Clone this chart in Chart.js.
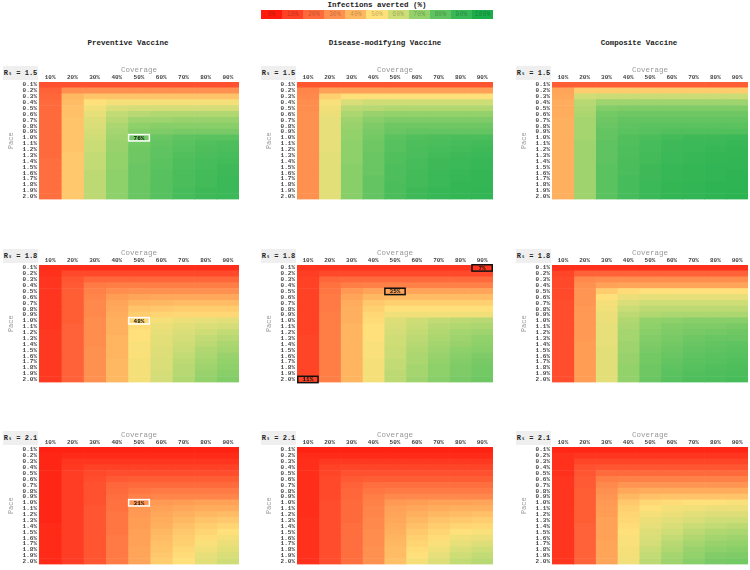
<!DOCTYPE html>
<html><head><meta charset="utf-8">
<script src="https://cdn.jsdelivr.net/npm/chart.js@4/dist/chart.umd.min.js"></script>
<style>
body{margin:0;width:750px;height:570px;background:#fff;position:relative;overflow:hidden;font-family:'Liberation Mono',monospace;}
.ptitle{position:absolute;top:38px;font:bold 7.5px 'Liberation Mono',monospace;color:#222;transform:translateX(-50%);white-space:nowrap;line-height:10px;}
.rbox{position:absolute;background:#efefef;font:bold 7px 'Liberation Mono','DejaVu Sans Mono',monospace;color:#222;display:flex;align-items:center;justify-content:center;white-space:nowrap;}
canvas{position:absolute;}
#legTitle{position:absolute;left:261px;top:0px;width:232px;text-align:center;font:bold 7.5px 'Liberation Mono',monospace;color:#222;line-height:10px;}
#legBar{position:absolute;left:261px;top:10px;width:232px;height:9px;display:flex;}
#legBar div{flex:1;font:6.5px 'Liberation Mono',monospace;color:rgba(0,0,0,0.28);text-align:center;line-height:9px;}
</style></head><body>
<div id="legTitle">Infections averted (%)</div>
<div id="legBar"></div>
<script>
// ---------- data ----------
const coverage = [10,20,30,40,50,60,70,80,90];
const paceLabels = ['0.1%','0.2%','0.3%','0.4%','0.5%','0.6%','0.7%','0.8%','0.9%','1.0%','1.1%','1.2%','1.3%','1.4%','1.5%','1.6%','1.7%','1.8%','1.9%','2.0%'];
const legendTicks = [0,10,20,30,40,50,60,70,80,90,100];
const legendColors = ['#ff1a0d','#ff4126','#ff6a3c','#ff9150','#ffb862','#ffe07a','#cfdd77','#93d16b','#5ec360','#37b756','#1cad4b'];
const vaccineTypes = ['Preventive Vaccine','Disease-modifying Vaccine','Composite Vaccine'];
const rValues = ['1.5','1.8','2.1'];

const prevR15 = [
[14,14,14,14,14,14,14,14,14],
[18,30,30,30,30,30,30,30,30],
[19,40,43,43,43,43,43,43,43],
[20,41,50,52,52,52,52,52,52],
[20,42,53,58,59,59,59,59,59],
[20,42,55,62,64,65,65,65,65],
[20,43,57,64,68,68,69,69,69],
[20,43,58,66,71,72,72,72,72],
[20,43,59,67,73,74,75,75,75],
[20,43,60,68,76,78,80,81,81],
[20,43,61,69,76,79,81,83,84],
[20,43,61,69,77,80,82,84,85],
[20,44,62,70,77,80,83,85,86],
[21,44,62,70,77,81,84,86,87],
[21,44,62,70,78,81,84,86,88],
[21,44,63,71,78,82,85,87,88],
[21,44,63,71,78,82,85,87,89],
[21,44,63,71,78,82,85,87,89],
[21,44,63,71,78,82,86,88,89],
[21,44,63,71,78,82,86,88,89]];
const dmR15 = [
[15,15,15,15,15,15,15,15,15],
[27,34,34,34,34,34,34,34,34],
[28,46,50,50,50,50,50,50,50],
[29,51,58,60,60,60,60,60,60],
[29,53,63,64,65,65,65,65,65],
[30,54,66,69,70,70,70,70,70],
[30,55,68,72,74,74,74,74,74],
[30,55,69,74,77,77,77,77,77],
[30,55,70,75,78,79,79,79,79],
[30,55,70,76,81,83,84,85,85],
[30,55,71,77,82,84,85,86,87],
[30,55,71,77,82,85,86,87,88],
[30,56,71,78,83,85,87,88,89],
[30,56,71,78,83,86,88,89,90],
[30,56,72,78,84,86,88,89,90],
[30,56,72,78,84,87,89,90,91],
[30,56,72,79,84,87,89,90,91],
[30,56,72,79,85,87,89,91,91],
[30,56,72,79,85,88,90,91,92],
[30,56,72,79,85,88,90,91,92]];
const compR15 = [
[17,17,17,17,17,17,17,17,17],
[35,45,45,45,45,45,45,45,45],
[36,60,61,61,61,61,61,61,61],
[37,64,68,68,68,68,68,68,68],
[37,65,73,74,74,74,74,74,74],
[37,66,76,77,77,77,77,77,77],
[38,67,77,79,79,79,79,79,79],
[38,67,78,80,81,81,81,81,81],
[38,67,79,81,82,83,83,83,83],
[38,67,79,83,85,87,88,88,89],
[38,68,80,83,86,88,89,89,90],
[38,68,80,84,86,88,89,90,91],
[38,68,80,84,87,89,90,91,91],
[38,68,80,85,87,89,90,91,92],
[38,68,81,85,88,90,91,92,92],
[38,68,81,85,88,90,91,92,93],
[38,68,81,86,88,90,91,92,93],
[38,68,81,86,89,91,92,93,93],
[38,68,81,86,89,91,92,93,94],
[38,68,81,86,89,91,92,93,94]];
const prevR18 = [
[5,5,5,5,5,5,5,5,5],
[6,12,12,12,12,12,12,12,12],
[7,15,19,19,19,19,19,19,19],
[7,16,24,25,25,25,25,25,25],
[7,17,26,29,30,30,30,30,30],
[7,17,27,33,35,36,36,36,36],
[7,17,28,35,39,40,41,41,41],
[7,17,28,36,43,44,45,45,45],
[7,17,28,37,45,47,48,48,48],
[7,17,29,38,48,52,54,55,56],
[7,18,29,38,49,54,56,58,59],
[8,18,29,38,50,55,58,60,62],
[8,18,29,39,50,56,59,62,64],
[8,18,29,39,51,56,60,63,66],
[8,18,30,39,51,57,61,65,67],
[8,18,30,39,51,57,62,66,69],
[8,18,30,40,52,58,63,67,70],
[8,18,30,40,52,58,64,68,71],
[8,18,30,40,52,59,64,69,72],
[8,18,30,40,52,59,65,70,73]];
const dmR18 = [
[7,7,7,7,7,7,7,7,7],
[9,12,12,12,12,12,12,12,12],
[10,19,20,20,20,20,20,20,20],
[10,22,25,26,26,26,26,26,26],
[10,23,32,35,35,35,35,35,35],
[10,24,35,40,41,41,41,41,41],
[10,24,37,44,46,46,46,46,46],
[10,24,38,46,50,50,50,50,50],
[10,25,38,48,53,53,53,53,53],
[10,25,38,49,57,60,62,63,64],
[10,25,39,50,58,61,64,65,66],
[10,25,39,50,59,62,65,67,68],
[11,25,39,50,60,63,66,68,70],
[11,25,39,51,60,64,67,69,71],
[11,25,39,51,61,65,68,71,72],
[11,25,39,51,61,66,69,72,74],
[11,25,39,52,62,66,70,73,75],
[11,25,39,52,62,67,71,74,76],
[11,25,39,52,63,67,71,74,76],
[11,25,39,52,63,68,72,75,77]];
const compR18 = [
[6,6,6,6,6,6,6,6,6],
[11,18,18,18,18,18,18,18,18],
[12,28,29,29,29,29,29,29,29],
[12,30,34,35,35,35,35,35,35],
[12,31,45,49,50,50,50,50,50],
[12,31,50,54,55,55,55,55,55],
[13,31,52,58,60,60,60,60,60],
[13,32,53,61,63,63,63,63,63],
[13,32,54,63,65,66,66,66,66],
[13,32,54,65,70,71,72,72,72],
[13,32,55,66,71,73,74,74,75],
[13,32,55,67,72,74,75,76,77],
[13,32,55,67,73,75,77,78,78],
[13,33,55,68,74,76,78,79,80],
[13,33,56,68,75,77,79,80,81],
[13,33,56,69,76,78,80,81,82],
[13,33,56,69,76,79,81,82,83],
[13,33,56,70,77,80,82,83,84],
[13,33,56,70,77,81,83,84,85],
[13,33,56,70,78,82,84,85,86]];
const prevR21 = [
[2,2,2,2,2,2,2,2,2],
[3,4,4,4,4,4,4,4,4],
[3,7,7,7,7,7,7,7,7],
[3,8,10,10,10,10,10,10,10],
[3,9,12,13,13,13,13,13,13],
[3,9,13,16,17,17,17,17,17],
[3,9,14,19,20,20,20,20,20],
[3,9,14,20,23,24,24,24,24],
[3,9,14,21,26,27,27,27,27],
[3,9,14,22,31,32,33,34,34],
[3,9,15,22,32,34,36,37,37],
[3,9,15,23,32,36,38,40,41],
[3,9,15,23,33,37,40,43,44],
[4,9,15,23,33,38,42,45,47],
[4,9,15,23,34,40,44,47,50],
[4,9,15,24,34,41,45,49,52],
[4,9,15,24,34,42,46,51,54],
[4,9,15,24,35,43,48,53,56],
[4,9,15,24,35,44,49,55,58],
[4,9,15,24,35,45,50,56,60]];
const dmR21 = [
[2,2,2,2,2,2,2,2,2],
[4,4,4,4,4,4,4,4,4],
[5,8,8,8,8,8,8,8,8],
[5,10,11,11,11,11,11,11,11],
[5,11,14,14,14,14,14,14,14],
[5,12,16,17,17,17,17,17,17],
[5,12,18,21,21,21,21,21,21],
[5,12,19,23,24,24,24,24,24],
[5,12,19,25,28,28,28,28,28],
[5,13,20,26,32,33,34,34,35],
[5,13,20,27,34,36,37,38,38],
[5,13,20,27,35,38,40,41,42],
[6,13,20,28,36,40,43,44,45],
[6,13,21,28,37,42,45,47,48],
[6,13,21,29,38,44,47,50,51],
[6,13,21,29,39,46,49,53,54],
[6,13,21,29,40,47,51,55,57],
[6,13,21,30,41,49,53,58,60],
[6,13,21,30,41,50,55,60,62],
[6,13,21,30,42,52,57,62,64]];
const compR21 = [
[3,3,3,3,3,3,3,3,3],
[6,7,7,7,7,7,7,7,7],
[6,11,11,11,11,11,11,11,11],
[6,14,15,15,15,15,15,15,15],
[6,15,20,20,20,20,20,20,20],
[7,16,25,26,26,26,26,26,26],
[7,16,28,31,31,31,31,31,31],
[7,17,30,36,37,37,37,37,37],
[7,17,31,40,42,43,43,43,43],
[7,17,32,44,48,49,50,50,51],
[7,17,33,46,50,52,53,54,54],
[7,17,33,47,52,54,56,57,57],
[7,17,34,48,54,56,58,60,60],
[7,18,34,49,55,58,61,62,63],
[7,18,34,50,57,60,63,65,66],
[7,18,34,51,58,62,65,67,68],
[7,18,35,51,59,64,67,69,70],
[7,18,35,52,61,65,69,71,72],
[7,18,35,52,62,67,70,73,74],
[7,18,35,53,63,68,72,75,76]];

// highlighted cells: [coverage index, pace index]
const highlightPrevR15 = [[4,9]];
const highlightPrevR18 = [[4,9]];
const highlightPrevR21 = [[4,9]];
const highlightDmR18 = [[8,0],[4,4],[0,19]];

// ---------- layout ----------
const heatLeft = [39, 297, 552];
const heatWidth = [200, 196, 196];
const heatTop = [82, 265, 447];
const heatH = 120;
const titleCenter = [128, 385, 639];

function hexToRgb(h){return [parseInt(h.slice(1,3),16),parseInt(h.slice(3,5),16),parseInt(h.slice(5,7),16)];}
const stopRgb = legendColors.map(hexToRgb);
function colorFor(v){
  const t = Math.max(0, Math.min(100, v)) / 10;
  const i = Math.min(9, Math.floor(t)); const f = t - i;
  const a = stopRgb[i], b = stopRgb[i+1];
  const c = a.map((x,k)=>Math.round(x + (b[k]-x)*f));
  return `rgb(${c[0]},${c[1]},${c[2]})`;
}

// legend
const legBar = document.getElementById('legBar');
legendTicks.forEach((t,i)=>{
  const d = document.createElement('div');
  d.style.background = legendColors[i];
  d.textContent = t + '%';
  legBar.appendChild(d);
});

// titles
vaccineTypes.forEach((t,i)=>{
  const d = document.createElement('div');
  d.className = 'ptitle'; d.style.left = titleCenter[i] + 'px'; d.textContent = t;
  document.body.appendChild(d);
});

const highlightPlugin = {
  id: 'hl',
  afterDatasetsDraw(chart, args, opts) {
    const {ctx, scales:{x, y}} = chart;
    (opts.cells || []).forEach(([c, r]) => {
      const x1 = x.getPixelForValue(coverage[c] - 5), x2 = x.getPixelForValue(coverage[c] + 5);
      const yc = y.getPixelForValue(r);
      const h = Math.abs(y.getPixelForValue(1) - y.getPixelForValue(0));
      ctx.save();
      ctx.strokeStyle = opts.stroke; ctx.lineWidth = 1.5;
      ctx.strokeRect(x1 + 0.75, yc - h/2 - 0.25, x2 - x1 - 1.5, h + 0.5);
      ctx.fillStyle = '#111';
      ctx.font = "bold 6px 'Liberation Mono', monospace";
      ctx.textAlign = 'center'; ctx.textBaseline = 'middle';
      ctx.fillText(opts.values[r][c] + '%', (x1 + x2) / 2, yc + 0.5);
      ctx.restore();
    });
  }
};

const panels = [
  [prevR15, dmR15, compR15],
  [prevR18, dmR18, compR18],
  [prevR21, dmR21, compR21]
];
const highlights = [
  [highlightPrevR15, [], []],
  [highlightPrevR18, highlightDmR18, []],
  [highlightPrevR21, [], []]
];
const strokes = [['#ffffff','#111','#111'],['#ffffff','#111','#111'],['#ffffff','#111','#111']];

const tickFont = {family:"'Liberation Mono', monospace", size:6, weight:'bold'};
const padL = 40, padT = 18;

panels.forEach((rowPanels, row) => {
  rowPanels.forEach((values, col) => {
    const L = heatLeft[col], W = heatWidth[col], T = heatTop[row];
    const cv = document.createElement('canvas');
    cv.width = W + padL + 3; cv.height = heatH + padT + 3;
    cv.style.left = (L - padL) + 'px'; cv.style.top = (T - padT) + 'px';
    document.body.appendChild(cv);

    const rb = document.createElement('div');
    rb.className = 'rbox';
    rb.style.left = (L - 36) + 'px'; rb.style.top = (T - 16) + 'px';
    rb.style.width = '35px'; rb.style.height = '14px';
    rb.textContent = 'R\u209C = ' + rValues[row];
    document.body.appendChild(rb);

    const datasets = coverage.map((cov, c) => ({
      data: paceLabels.map(() => [cov - 5, cov + 5]),
      backgroundColor: paceLabels.map((_, r) => colorFor(values[r][c])),
      borderWidth: 0, barPercentage: 1, categoryPercentage: 1, grouped: false
    }));

    new Chart(cv, {
      type: 'bar',
      data: {labels: paceLabels, datasets},
      plugins: [highlightPlugin],
      options: {
        indexAxis: 'y', responsive: false, animation: false, devicePixelRatio: 1,
        layout: {padding: {left: 0, top: 0, right: 3, bottom: 3}},
        plugins: {
          legend: {display: false}, tooltip: {enabled: false},
          hl: {cells: highlights[row][col], stroke: strokes[row][col], values}
        },
        scales: {
          x: {
            type: 'linear', position: 'top', min: 5, max: 95,
            afterBuildTicks: s => { s.ticks = coverage.map(v => ({value: v})); },
            afterFit: s => { s.height = padT; },
            grid: {display: false, drawTicks: false}, border: {display: false},
            ticks: {padding: 1, font: tickFont, color: '#444', autoSkip: false, maxRotation: 0, callback: v => v + '%'},
            title: {display: true, text: 'Coverage', color: '#999', font: {family:"'Liberation Mono', monospace", size: 7.5}, padding: {top: 2, bottom: 0}}
          },
          y: {
            type: 'category',
            afterFit: s => { s.width = padL; },
            grid: {display: false, drawTicks: false}, border: {display: false},
            ticks: {padding: 2, font: tickFont, color: '#444', autoSkip: false},
            title: {display: true, text: 'Pace', color: '#999', font: {family:"'Liberation Mono', monospace", size: 7}, padding: {top: 8, bottom: 0}}
          }
        }
      }
    });
  });
});
</script></body></html>
